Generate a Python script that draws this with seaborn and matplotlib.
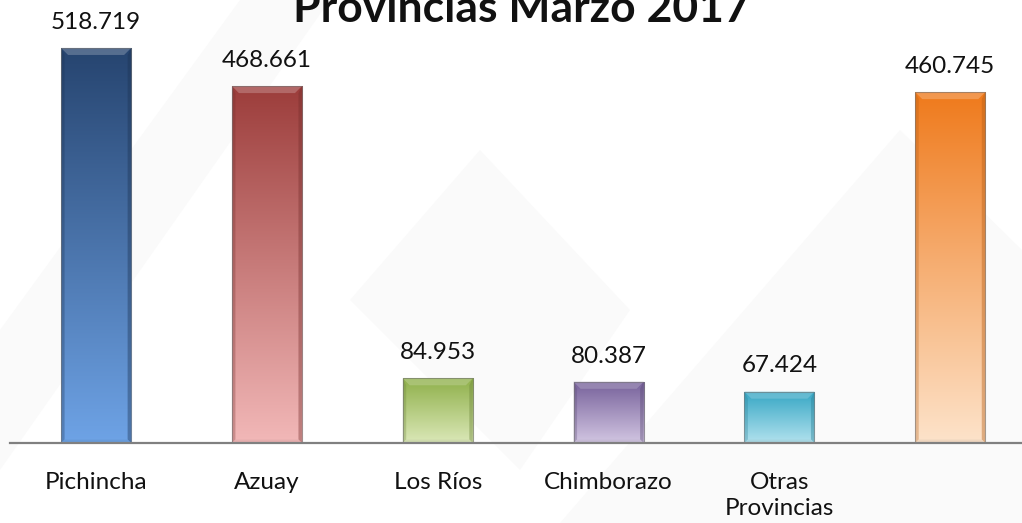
import numpy as np
import matplotlib
matplotlib.use("Agg")
import matplotlib.pyplot as plt
from matplotlib.colors import LinearSegmentedColormap, to_rgb
from matplotlib.patches import Polygon
import seaborn as sns

# ── Data ────────────────────────────────────────────────
categories = ["Pichincha", "Azuay", "Los Ríos", "Chimborazo", "Otras\nProvincias", " "]
values = [518.719, 468.661, 84.953, 80.387, 67.424, 460.745]
title = "Provincias Marzo 2017"

# gradient colours per bar: (top, bottom)
top_colors = ["#26446f", "#9c3d3b", "#8fb04a", "#76609a", "#35a6c4", "#ef7a1c"]
bottom_colors = ["#6ea3e6", "#f2b8b8", "#dbe8b8", "#d2c6e2", "#b2e2ee", "#fde3ca"]

# ── Style ────────────────────────────────────────────────
sns.set_theme(style="white")
plt.rcParams["font.family"] = ["Lato", "DejaVu Sans"]

W, H = 1022, 523
fig = plt.figure(figsize=(W / 100, H / 100), dpi=100)
fig.patch.set_facecolor("white")

# faint watermark shapes in the background
bg = fig.add_axes([0, 0, 1, 1], zorder=-5)
bg.set_xlim(0, W)
bg.set_ylim(H, 0)
bg.axis("off")
for pts in [
    [(0, 330), (240, 0), (330, 0), (0, 470)],
    [(480, 150), (630, 310), (520, 470), (350, 300)],
    [(560, 523), (900, 130), (1022, 250), (1022, 523)],
]:
    bg.add_patch(Polygon(pts, closed=True, facecolor="#fafafa", edgecolor="none"))

ax_left, ax_bottom = 10 / W, (H - 443) / H
ax = fig.add_axes([ax_left, ax_bottom, 1 - ax_left, 443 / H])
ax.patch.set_alpha(0)

idx = list(range(len(categories)))
sns.barplot(x=idx, y=values, hue=idx, palette=top_colors, width=0.41,
            legend=False, ax=ax, saturation=1, dodge=False)

ax.set_xlim(-0.504, 5.42)
ax.set_ylim(0, 581.7)

px_x = (W - 10) / (5.42 + 0.504)
px_y = 443 / 581.7
bev_x = 7 / px_x
bev_y = 7 / px_y

bars = sorted([p for p in ax.patches], key=lambda p: p.get_x())
for i, bar in enumerate(bars):
    x0, w, h = bar.get_x(), bar.get_width(), bar.get_height()
    x1 = x0 + w
    bar.set_facecolor("none")
    bar.set_edgecolor("none")
    cmap = LinearSegmentedColormap.from_list("g", [bottom_colors[i], top_colors[i]])
    grad = np.linspace(0, 1, 256).reshape(-1, 1)
    im = ax.imshow(grad, cmap=cmap, extent=[x0, x1, 0, h], origin="lower",
                   aspect="auto", zorder=2, interpolation="bicubic")
    im.set_clip_path(bar)
    tc = np.array(to_rgb(top_colors[i]))
    bc = np.array(to_rgb(bottom_colors[i]))
    # bevel: light top, dark sides, slightly dark bottom
    light = tc + (1 - tc) * 0.3
    ax.add_patch(Polygon([(x0, h), (x1, h), (x1 - bev_x, h - bev_y), (x0 + bev_x, h - bev_y)],
                         facecolor=light, edgecolor="none", alpha=0.75, zorder=3))
    ax.add_patch(Polygon([(x0, h), (x0 + bev_x * 0.5, h - bev_y), (x0 + bev_x * 0.5, bev_y * 0.5), (x0, 0)],
                         facecolor=tc * 0.75, edgecolor="none", alpha=0.3, zorder=3))
    ax.add_patch(Polygon([(x1, h), (x1 - bev_x * 0.5, h - bev_y), (x1 - bev_x * 0.5, bev_y * 0.5), (x1, 0)],
                         facecolor=tc * 0.75, edgecolor="none", alpha=0.4, zorder=3))
    ax.add_patch(Polygon([(x0, 0), (x1, 0), (x1 - bev_x * 0.5, bev_y * 0.5), (x0 + bev_x * 0.5, bev_y * 0.5)],
                         facecolor=bc * 0.9, edgecolor="none", alpha=0.5, zorder=3))
    ax.add_patch(Polygon([(x0, 0), (x1, 0), (x1, h), (x0, h)], closed=True,
                         facecolor="none", edgecolor=(0.45, 0.45, 0.45), linewidth=0.8,
                         alpha=0.6, zorder=4))
    ax.annotate(f"{values[i]:.3f}", (x0 + w / 2, h), xytext=(0, 11),
                textcoords="offset points", ha="center", va="bottom",
                fontsize=17.5, color="#111111", zorder=6)

ax.set_xticks(idx)
ax.set_xticklabels(categories, fontsize=17.5, color="#111111", linespacing=1.3, va="top")
ax.tick_params(axis="x", length=0, pad=21)
ax.set_yticks([])
ax.set_xlabel("")
ax.set_ylabel("")
for s in ["top", "right", "left"]:
    ax.spines[s].set_visible(False)
ax.spines["bottom"].set_color("#808080")
ax.spines["bottom"].set_linewidth(1.6)
ax.spines["bottom"].set_zorder(5)

fig.text(521 / W, 1 - 22 / H, title, ha="center", va="baseline",
         fontsize=32, fontweight="bold", color="#111111")

fig.savefig("out.png", dpi=100)
